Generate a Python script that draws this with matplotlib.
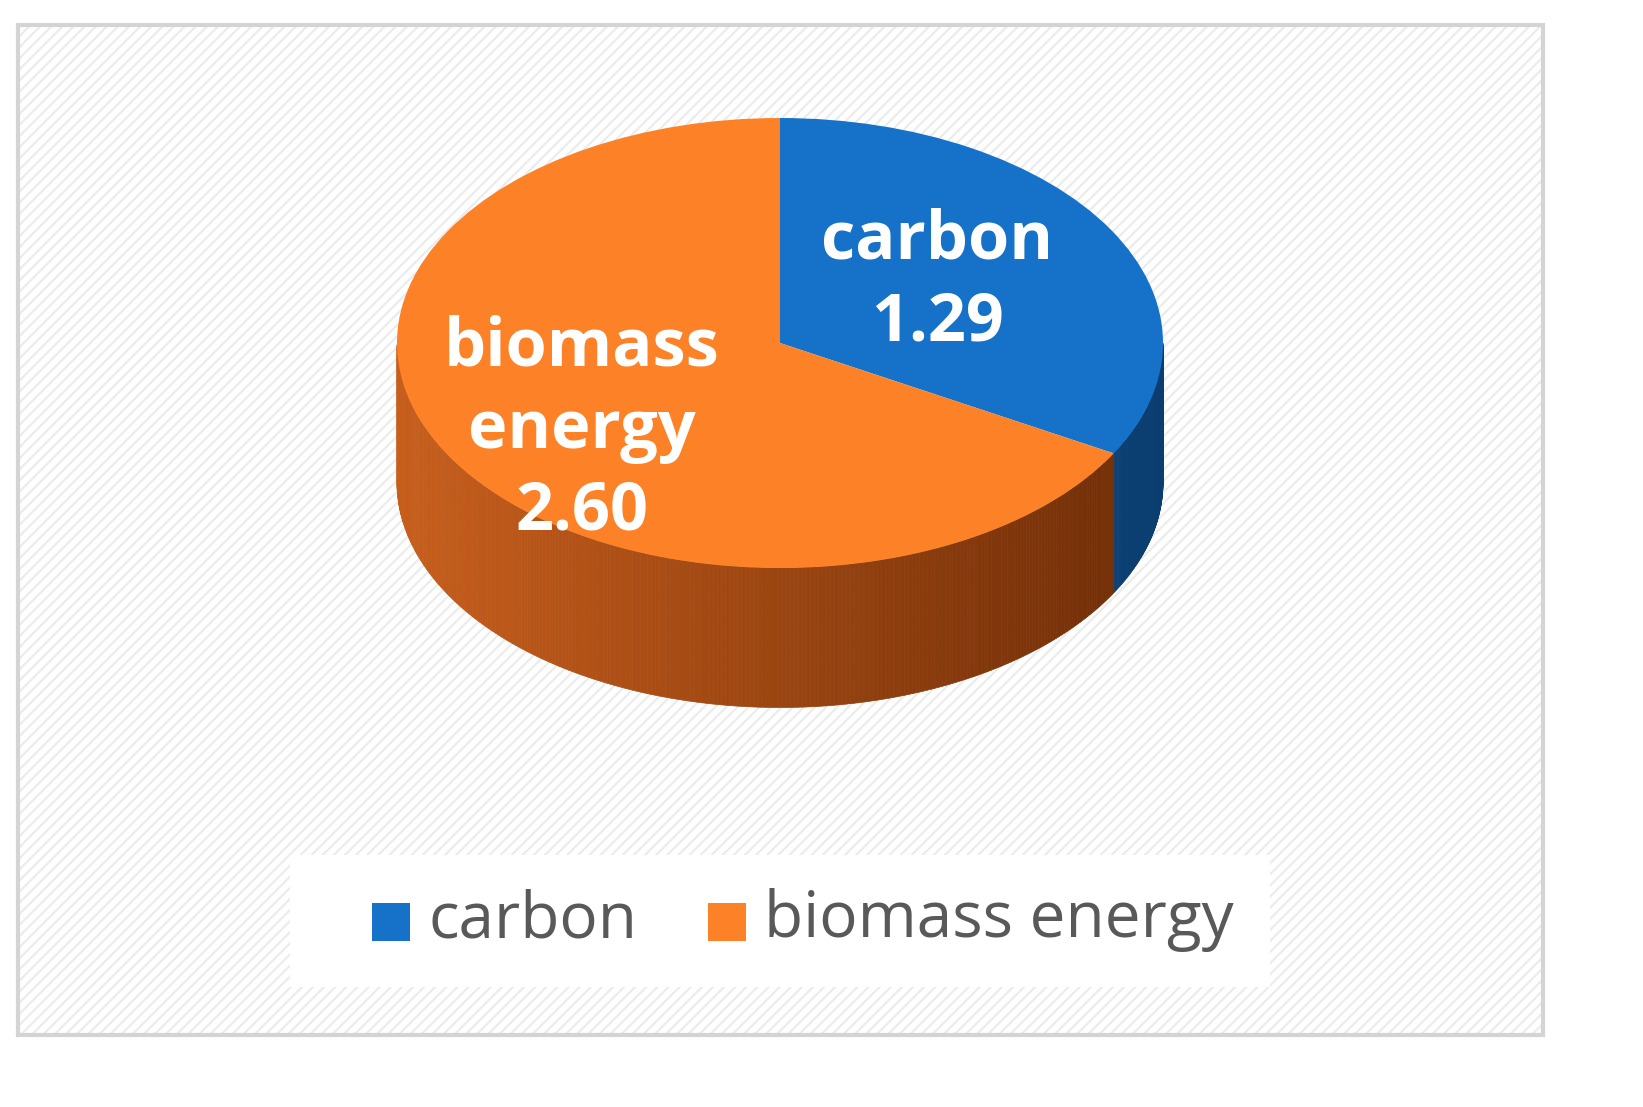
import numpy as np
import matplotlib
matplotlib.use("Agg")
import matplotlib.pyplot as plt
from matplotlib.patches import Rectangle, Polygon
import matplotlib.colors as mc

labels = ["carbon", "biomass energy"]
values = [1.29, 2.60]
colors = ["#1672C8", "#FD8126"]
side_dark = ["#0B3E70", "#6E2C06"]
side_light = ["#1458A0", "#C75E1C"]

fig = plt.figure(figsize=(16.43, 11.07), dpi=100)
bg = fig.add_axes([0, 0, 1, 1]); bg.set_xlim(0, 1643); bg.set_ylim(1107, 0); bg.axis("off")
plt.rcParams["hatch.linewidth"] = 1.5
bg.add_patch(Rectangle((18, 25), 1525, 1010, facecolor="white", edgecolor="#EBEBEB", hatch="///", lw=0))
bg.add_patch(Rectangle((18, 25), 1525, 1010, facecolor="none", edgecolor="#D4D4D4", lw=3))
bg.add_patch(Rectangle((290, 855), 980, 132, facecolor="white", edgecolor="none"))

ax = fig.add_axes([0, 0, 1, 1])
depth = 0.62
total = sum(values)
start = 90.0
for v, dk, lt in zip(values, side_dark, side_light):
    end = start - 360 * v / total
    th = np.linspace(start, end, 400)
    th = th[(np.mod(th, 360) >= 180) | (np.isclose(np.mod(th, 360), 0))]
    for a, b in zip(th[:-1], th[1:]):
        ra, rb = np.radians(a), np.radians(b)
        t = (np.cos((ra + rb) / 2) + 1) / 2
        c = np.array(mc.to_rgb(lt)) * (1 - t) + np.array(mc.to_rgb(dk)) * t
        ax.add_patch(Polygon([(np.cos(ra), np.sin(ra)), (np.cos(rb), np.sin(rb)),
                              (np.cos(rb), np.sin(rb) - depth), (np.cos(ra), np.sin(ra) - depth)],
                             closed=True, facecolor=c, edgecolor=c, lw=0.5))
    start = end

wedges, _ = ax.pie(values, colors=colors, startangle=90, counterclock=False,
                   radius=1, center=(0, 0), wedgeprops=dict(lw=0))
ax.set_aspect("auto")
ax.set_xlim(-780 / 383, (1643 - 780) / 383)
ax.set_ylim(-(1107 - 343) / 225, 343 / 225)
ax.axis("off")

fp = dict(family="Open Sans", weight="bold", color="white", fontsize=48, ha="center", va="center",
          linespacing=1.3)
fig.text(937 / 1643, 1 - 282 / 1107, f"{labels[0]}\n{values[0]:.2f}", **fp)
fig.text(582 / 1643, 1 - 430 / 1107, "biomass\nenergy\n" + f"{values[1]:.2f}", **fp)

bg.add_patch(Rectangle((372, 903), 38, 38, facecolor=colors[0]))
bg.add_patch(Rectangle((708, 903), 38, 38, facecolor=colors[1]))
bg.text(428, 920, labels[0], fontsize=46, color="#595959", va="center", family="Open Sans")
bg.text(764, 920, labels[1], fontsize=46, color="#595959", va="center", family="Open Sans")

fig.savefig("out.png", dpi=100)
